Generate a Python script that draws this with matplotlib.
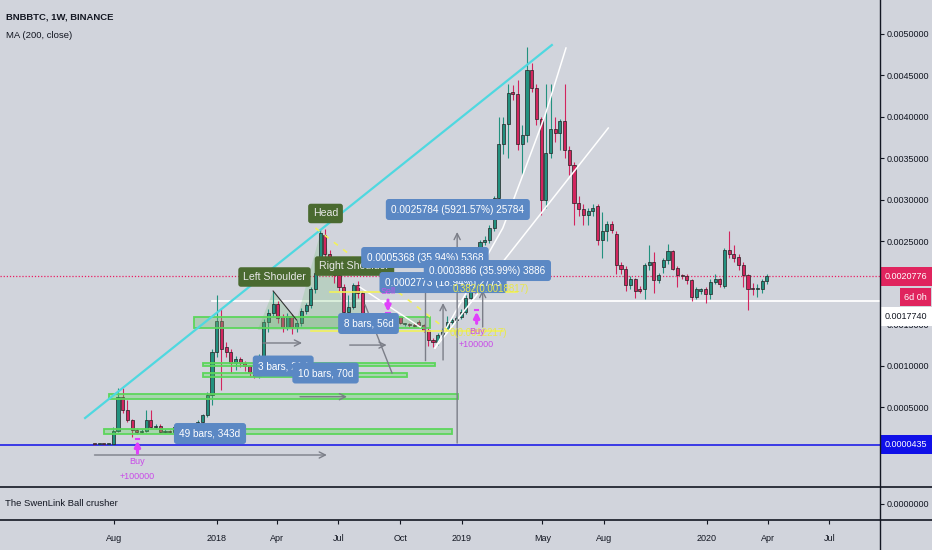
import matplotlib
matplotlib.use("Agg")
import matplotlib.pyplot as plt
import matplotlib.dates as mdates
from matplotlib.lines import Line2D
from matplotlib.patches import Rectangle, Polygon
from matplotlib.ticker import FormatStrFormatter
import pandas as pd

plt.rcParams['font.family'] = ['Liberation Sans', 'DejaVu Sans']

# weekly candles BNBBTC, first bar = week of 2017-07-03
first_week = "2017-07-03"
opens = [0.000050, 0.000049, 0.000050, 0.000049,
         0.000050, 0.000215, 0.000625, 0.000460, 0.000340, 0.000220, 0.000200, 0.000210, 0.000350, 0.000260,
         0.000270, 0.000200, 0.000210, 0.000200, 0.000260, 0.000200, 0.000190, 0.000192, 0.000180, 0.000320,
         0.000400, 0.000640, 0.001160, 0.001540, 0.001230, 0.001170, 0.001030, 0.001080, 0.001030, 0.000990,
         0.000920, 0.000870, 0.001110, 0.001530, 0.001630, 0.001740, 0.001590, 0.001460, 0.001600, 0.001460,
         0.001510, 0.001660, 0.001730, 0.001920, 0.002120, 0.002580, 0.002350, 0.002250, 0.002090, 0.001950,
         0.001650, 0.001710, 0.001970, 0.001880, 0.001590, 0.001510, 0.001510, 0.001500, 0.001505, 0.001590,
         0.001520, 0.001590, 0.001500, 0.001500, 0.001490, 0.001530, 0.001490, 0.001430, 0.001310, 0.001280,
         0.001370, 0.001430, 0.001530, 0.001550, 0.001590, 0.001650, 0.001820, 0.001970, 0.001970, 0.002490,
         0.002520, 0.002660, 0.003020, 0.003670, 0.003920, 0.004300, 0.004280, 0.003670, 0.003780, 0.004570,
         0.004350, 0.003980, 0.003000, 0.003570, 0.003850, 0.003800, 0.003950, 0.003600, 0.003420, 0.002960,
         0.002890, 0.002820, 0.002870, 0.002920, 0.002510, 0.002620, 0.002710, 0.002590, 0.002210, 0.002170,
         0.001970, 0.002040, 0.001930, 0.001920, 0.002210, 0.002250, 0.002030, 0.002190, 0.002270, 0.002380,
         0.002180, 0.002090, 0.002080, 0.002030, 0.001830, 0.001900, 0.001920, 0.001860, 0.002010, 0.002040,
         0.001960, 0.002400, 0.002350, 0.002310, 0.002210, 0.002090, 0.001930, 0.001920, 0.001930, 0.002020]
closes = [0.000049, 0.000050, 0.000049, 0.000050,
          0.000215, 0.000625, 0.000460, 0.000340, 0.000220, 0.000200, 0.000210, 0.000350, 0.000260, 0.000270,
          0.000200, 0.000210, 0.000200, 0.000260, 0.000200, 0.000190, 0.000192, 0.000180, 0.000320, 0.000400,
          0.000640, 0.001160, 0.001540, 0.001200, 0.001170, 0.001030, 0.001080, 0.001030, 0.000990, 0.000920,
          0.000880, 0.001110, 0.001530, 0.001630, 0.001740, 0.001570, 0.001460, 0.001600, 0.001460, 0.001510,
          0.001660, 0.001730, 0.001920, 0.002120, 0.002600, 0.002350, 0.002220, 0.002090, 0.001950, 0.001650,
          0.001710, 0.001970, 0.001880, 0.001590, 0.001510, 0.001510, 0.001500, 0.001505, 0.001510, 0.001530,
          0.001590, 0.001520, 0.001505, 0.001490, 0.001480, 0.001490, 0.001430, 0.001310, 0.001280, 0.001370,
          0.001430, 0.001530, 0.001550, 0.001580, 0.001650, 0.001820, 0.001970, 0.001950, 0.002490, 0.002520,
          0.002660, 0.003020, 0.003670, 0.003920, 0.004290, 0.004280, 0.003670, 0.003780, 0.004570, 0.004350,
          0.003980, 0.003000, 0.003570, 0.003850, 0.003800, 0.003950, 0.003600, 0.003420, 0.002960, 0.002890,
          0.002820, 0.002870, 0.002900, 0.002510, 0.002620, 0.002710, 0.002640, 0.002210, 0.002170, 0.001970,
          0.002040, 0.001900, 0.001900, 0.002210, 0.002250, 0.002030, 0.002090, 0.002270, 0.002380, 0.002170,
          0.002090, 0.002080, 0.002030, 0.001830, 0.001920, 0.001920, 0.001860, 0.002010, 0.002040, 0.001980,
          0.002400, 0.002350, 0.002300, 0.002210, 0.002090, 0.001930, 0.001920, 0.001930, 0.002020, 0.0020776]
highs = [0.000056, 0.000055, 0.000056, 0.000055,
         0.000260, 0.000730, 0.000730, 0.000580, 0.000360, 0.000250, 0.000230, 0.000460, 0.000460, 0.000300,
         0.000290, 0.000230, 0.000220, 0.000270, 0.000270, 0.000210, 0.000200, 0.000200, 0.000340, 0.000420,
         0.000680, 0.001200, 0.001850, 0.001700, 0.001280, 0.001200, 0.001120, 0.001110, 0.001060, 0.001010,
         0.000950, 0.001140, 0.001560, 0.001680, 0.001900, 0.001780, 0.001620, 0.001630, 0.001620, 0.001550,
         0.001700, 0.001760, 0.001950, 0.002150, 0.002640, 0.002650, 0.002400, 0.002280, 0.002120, 0.001980,
         0.001850, 0.002000, 0.002020, 0.001900, 0.001620, 0.001530, 0.001520, 0.001520, 0.001530, 0.001600,
         0.001600, 0.001600, 0.001520, 0.001520, 0.001510, 0.001550, 0.001500, 0.001450, 0.001330, 0.001390,
         0.001450, 0.001600, 0.001570, 0.001600, 0.001680, 0.001850, 0.002000, 0.002000, 0.002520, 0.002560,
         0.002700, 0.003050, 0.004000, 0.004000, 0.004400, 0.004380, 0.004450, 0.003900, 0.004840, 0.004650,
         0.004400, 0.004000, 0.004400, 0.004400, 0.004000, 0.003980, 0.004400, 0.003650, 0.003450, 0.003050,
         0.002950, 0.002900, 0.002950, 0.002950, 0.002850, 0.002750, 0.002740, 0.002620, 0.002250, 0.002200,
         0.002080, 0.002060, 0.001960, 0.002240, 0.002450, 0.002370, 0.002120, 0.002300, 0.002470, 0.002400,
         0.002200, 0.002100, 0.002100, 0.002050, 0.001950, 0.001940, 0.001950, 0.002040, 0.002100, 0.002060,
         0.002420, 0.002620, 0.002450, 0.002350, 0.002250, 0.002100, 0.002000, 0.001980, 0.002040, 0.002100]
lows = [0.000044, 0.000045, 0.000044, 0.000045,
        0.000045, 0.000200, 0.000430, 0.000320, 0.000140, 0.000180, 0.000190, 0.000200, 0.000250, 0.000240,
        0.000190, 0.000190, 0.000190, 0.000190, 0.000190, 0.000180, 0.000170, 0.000160, 0.000170, 0.000300,
        0.000380, 0.000530, 0.001100, 0.000700, 0.001100, 0.000910, 0.000950, 0.000980, 0.000940, 0.000880,
        0.000850, 0.000850, 0.001050, 0.001400, 0.001600, 0.001520, 0.001400, 0.001430, 0.001380, 0.001400,
        0.001480, 0.001620, 0.001700, 0.001880, 0.002100, 0.002300, 0.002150, 0.002000, 0.001900, 0.001550,
        0.001600, 0.001680, 0.001820, 0.001480, 0.001480, 0.001490, 0.001480, 0.001470, 0.001480, 0.001500,
        0.001500, 0.001500, 0.001480, 0.001470, 0.001460, 0.001460, 0.001400, 0.001240, 0.001230, 0.001250,
        0.001340, 0.001400, 0.001500, 0.001530, 0.001560, 0.001620, 0.001800, 0.001880, 0.001920, 0.002450,
        0.002480, 0.002620, 0.003000, 0.003550, 0.003500, 0.004200, 0.003600, 0.003300, 0.003700, 0.004300,
        0.003900, 0.002820, 0.002900, 0.003500, 0.003700, 0.003600, 0.003500, 0.003300, 0.002700, 0.002800,
        0.002700, 0.002700, 0.002800, 0.002450, 0.002300, 0.002500, 0.002600, 0.002100, 0.002100, 0.001900,
        0.001930, 0.001820, 0.001880, 0.001800, 0.002150, 0.001870, 0.002000, 0.002120, 0.002220, 0.002150,
        0.001950, 0.002050, 0.001980, 0.001780, 0.001800, 0.001860, 0.001760, 0.001800, 0.001980, 0.001950,
        0.001940, 0.002300, 0.002250, 0.002150, 0.001950, 0.001670, 0.001850, 0.001830, 0.001880, 0.001980]

last_price = 0.0020776
support_price = 0.0017740
base_price = 0.0000435

price_ticks = [0.0005, 0.0010, 0.0015, 0.0020, 0.0025, 0.0030, 0.0035, 0.0040, 0.0045, 0.0050]
month_ticks = ["2017-08-01", "2018-01-01", "2018-04-01", "2018-07-01", "2018-10-01", "2019-01-01",
               "2019-05-01", "2019-08-01", "2020-01-01", "2020-04-01", "2020-07-01"]
month_labels = ["Aug", "2018", "Apr", "Jul", "Oct", "2019", "May", "Aug", "2020", "Apr", "Jul"]

# chart drawings (date, price)
cyan_trend = [("2017-06-19", 0.000368), ("2019-05-15", 0.004867)]
white_arc = [("2018-11-22", 0.001212), ("2019-03-03", 0.00266), ("2019-03-30", 0.003239),
             ("2019-05-05", 0.004023), ("2019-06-05", 0.004831)]
white_fan = [("2018-11-22", 0.001212), ("2019-08-07", 0.003866)]
white_diag = [("2018-08-02", 0.001948), ("2018-10-31", 0.001466)]
support_start = "2017-12-25"

zones = [("2017-11-28", "2018-11-14", 0.001450, 0.001586),
         ("2017-12-11", "2018-11-22", 0.000995, 0.001035),
         ("2017-12-11", "2018-10-11", 0.000859, 0.000914),
         ("2017-07-25", "2018-12-26", 0.000593, 0.000657),
         ("2017-07-17", "2018-12-18", 0.000175, 0.000232)]

hs_points = [("2018-03-03", 0.00143), ("2018-03-26", 0.00190), ("2018-04-30", 0.00155),
             ("2018-06-06", 0.002648), ("2018-07-11", 0.001647), ("2018-07-27", 0.001948),
             ("2018-08-20", 0.00143)]

gray_arrows = [(("2017-07-03", -0.000078), ("2018-06-14", -0.000078)),
               (("2018-03-11", 0.001273), ("2018-05-08", 0.001273)),
               (("2018-07-18", 0.001248), ("2018-09-11", 0.001248)),
               (("2018-05-05", 0.000625), ("2018-07-14", 0.000625)),
               (("2018-12-25", 0.000066), ("2018-12-25", 0.002612)),
               (("2018-12-04", 0.001068), ("2018-12-04", 0.001755)),
               (("2019-02-01", 0.001466), ("2019-02-01", 0.001912))]
gray_lines = [(("2018-11-07", 0.001068), ("2018-11-07", 0.002033)),
              (("2018-08-10", 0.001731), ("2018-09-19", 0.000911))]

yellow_dash = [("2018-05-28", 0.00266), ("2018-12-14", 0.001405)]
yellow_levels = [(0.001888, "2018-06-18", "2019-03-24"), (0.001417, "2018-05-22", "2019-03-03")]
yellow_texts = [("0.382(0.0018817)", "2018-12-18", 0.00193), ("0(0.0012217)", "2018-12-14", 0.001393)]

blue_boxes = [("0.0002773 (18.94%) 2773", "2018-12-04", 0.002002),
              ("0.0025784 (5921.57%) 25784", "2018-12-26", 0.002883),
              ("0.0005368 (35.94%) 5368", "2018-11-07", 0.002304),
              ("0.0003886 (35.99%) 3886", "2019-02-08", 0.002147),
              ("8 bars, 56d", "2018-08-15", 0.001508),
              ("3 bars, 21d", "2018-04-10", 0.000995),
              ("10 bars, 70d", "2018-06-12", 0.000911),
              ("49 bars, 343d", "2017-12-22", 0.000181)]
pattern_labels = [("Head", "2018-06-12", 0.002835), ("Left Shoulder", "2018-03-28", 0.002069)]
right_shoulder = ("Right Shoulder", "2018-06-03", 0.002201)

buy_marks = [("2017-09-05", 0.000094, -0.000058, -0.000159, -0.000332),
             ("2019-01-23", 0.00165, 0.00151, 0.001417, 0.001257)]
sell_mark = ("2018-09-13", 0.001791, 0.00165, 0.00189)


def dn(s):
    return mdates.date2num(pd.Timestamp(s))


bg = "#d1d4dc"
up_col = "#22917f"
dn_col = "#d2255e"
magenta = "#e040fb"
gray = "#7b7e88"
dark = "#131722"
fs_axis = 6.5

fig = plt.figure(figsize=(9.32, 5.5), dpi=100, facecolor=bg)
ax = fig.add_axes([0, 63 / 550, 880 / 932, 487 / 550], facecolor=bg)
ax2 = fig.add_axes([0, 30 / 550, 880 / 932, 33 / 550], facecolor=bg)

day0 = dn("2017-08-01")
ax.set_xlim(day0 - 169.7, day0 + 1140.6)
ax.set_ylim(-0.000464, 0.00541)
ax2.set_xlim(day0 - 169.7, day0 + 1140.6)
ax2.set_ylim(-1, 1)

# candles
weeks = mdates.date2num(pd.date_range(first_week, periods=len(opens), freq="7D"))
for xi, o, c, h, l in zip(weeks, opens, closes, highs, lows):
    col = up_col if c >= o else dn_col
    ax.vlines(xi, l, h, color=col, lw=0.8, zorder=3)
    body = max(abs(c - o), 0.000012)
    ax.bar(xi, body, bottom=min(o, c), width=4.6, color=col, edgecolor="#222222",
           linewidth=0.5, zorder=3.5)

# horizontal levels
ax.axhline(last_price, color="#e91e63", lw=0.9, ls=(0, (1, 1.5)), zorder=2)
ax.axhline(base_price, color="#1010e8", lw=1.1, zorder=2)
ax.plot([dn(support_start), day0 + 1140.6], [support_price] * 2, color="white", lw=1.3, zorder=2)

# zones
for i, (d1, d2, p1, p2) in enumerate(zones):
    fc = (0.45, 0.72, 0.45, 0.35) if i == 0 else (0.35, 0.85, 0.35, 0.35)
    ax.add_patch(Rectangle((dn(d1), p1), dn(d2) - dn(d1), p2 - p1, facecolor=fc,
                           edgecolor="#5cd65c", lw=1.3, zorder=4))

# head & shoulders pattern
hs = [(dn(d), p) for d, p in hs_points]
ax.add_patch(Polygon(hs, closed=True, facecolor=(0.4, 0.75, 0.4, 0.22), edgecolor="none", zorder=2.5))
ax.plot([hs[1][0], hs[2][0]], [hs[1][1], hs[2][1]], color="#333333", lw=0.8, zorder=4)

# trend lines
ax.plot([dn(d) for d, _ in cyan_trend], [p for _, p in cyan_trend], color="#4fd8e0", lw=1.6, zorder=5)
ax.plot([dn(d) for d, _ in white_arc], [p for _, p in white_arc], color="white", lw=1.1, zorder=5)
ax.plot([dn(d) for d, _ in white_fan], [p for _, p in white_fan], color="white", lw=1.1, zorder=5)
ax.plot([dn(d) for d, _ in white_diag], [p for _, p in white_diag], color="white", lw=1.0, zorder=5)

# yellow fib / projections
ax.plot([dn(d) for d, _ in yellow_dash], [p for _, p in yellow_dash], color="#f2f25a", lw=1.2,
        ls=(0, (3, 4)), zorder=5)
for p, d1, d2 in yellow_levels:
    ax.plot([dn(d1), dn(d2)], [p, p], color="#f2f25a", lw=1.2, zorder=5)
for s, d, p in yellow_texts:
    ax.text(dn(d), p, s, color="#e8e84a", fontsize=7, ha="left", va="center", zorder=7)

# gray arrows and lines
for (d1, p1), (d2, p2) in gray_arrows:
    ax.annotate("", xy=(dn(d2), p2), xytext=(dn(d1), p1), zorder=5,
                arrowprops=dict(arrowstyle="->", color=gray, lw=1.0, mutation_scale=11,
                                shrinkA=0, shrinkB=0))
for (d1, p1), (d2, p2) in gray_lines:
    ax.plot([dn(d1), dn(d2)], [p1, p2], color=gray, lw=1.0, zorder=5)

# buy / sell markers
for d, top, bottom, t1, t2 in buy_marks:
    xm = dn(d)
    ax.annotate("", xy=(xm, top), xytext=(xm, bottom), zorder=6,
                arrowprops=dict(arrowstyle="-|>", color=magenta, lw=2.2, mutation_scale=8,
                                shrinkA=0, shrinkB=0))
    ax.plot([xm - 2.5, xm + 2.5], [top + 0.00002] * 2, color=magenta, lw=1.5, zorder=6)
    ax.text(xm, t1, "Buy", color="#c94be8", fontsize=6.5, ha="center", va="center", zorder=7)
    ax.text(xm, t2, "+100000", color="#c94be8", fontsize=6.5, ha="center", va="center", zorder=7)
xs = dn(sell_mark[0])
ax.annotate("", xy=(xs, sell_mark[2]), xytext=(xs, sell_mark[1]), zorder=6,
            arrowprops=dict(arrowstyle="-|>", color=magenta, lw=2.2, mutation_scale=8,
                            shrinkA=0, shrinkB=0))
ax.plot([xs - 2.5, xs + 2.5], [sell_mark[2] - 0.00002] * 2, color=magenta, lw=1.5, zorder=6)
ax.text(xs, sell_mark[3], "Sell", color="#c94be8", fontsize=6.5, ha="center", va="center", zorder=7)

# labels
ax.text(dn(right_shoulder[1]), right_shoulder[2], right_shoulder[0], color="#e8e8e8", fontsize=7.6,
        ha="left", va="center", zorder=6,
        bbox=dict(boxstyle="round,pad=0.45,rounding_size=0.25", fc="#4a6a30", ec="none"))
for s, d, p in pattern_labels:
    ax.text(dn(d), p, s, color="#e8e8e8", fontsize=7.6, ha="center", va="center", zorder=6,
            bbox=dict(boxstyle="round,pad=0.45,rounding_size=0.25", fc="#4a6a30", ec="none"))
for s, d, p in blue_boxes:
    ax.text(dn(d), p, s, color="white", fontsize=7.2, ha="center", va="center", zorder=6,
            bbox=dict(boxstyle="round,pad=0.55,rounding_size=0.3", fc="#5b88c4", ec="none"))

# price scale
ax.set_xticks([])
ax.yaxis.tick_right()
ax.set_yticks(price_ticks)
ax.yaxis.set_major_formatter(FormatStrFormatter("%.7f"))
ax.tick_params(axis="y", length=3, width=0.8, pad=1.5, labelsize=fs_axis, colors=dark)
for sp in ax.spines.values():
    sp.set_visible(False)
for sp in ax2.spines.values():
    sp.set_visible(False)

ytr = ax.get_yaxis_transform()
lx = 1 + 5 / 880
ax.text(lx, last_price, "0.0020776", transform=ytr, ha="left", va="center", color="white",
        fontsize=fs_axis, zorder=10, clip_on=False,
        bbox=dict(boxstyle="square,pad=0.55", fc="#e0245e", ec="none"))
ax.text(927 / 880, 0.001827, "6d 0h", transform=ytr, ha="right", va="center", color="white",
        fontsize=fs_axis, zorder=10, clip_on=False,
        bbox=dict(boxstyle="square,pad=0.45", fc="#e0245e", ec="none"))
ax.text(lx, 0.001598, "0.0017740", transform=ytr, ha="left", va="center", color=dark,
        fontsize=fs_axis, zorder=10, clip_on=False,
        bbox=dict(boxstyle="square,pad=0.55", fc="white", ec="none"))
ax.text(lx, base_price, "0.0000435", transform=ytr, ha="left", va="center", color="white",
        fontsize=fs_axis, zorder=10, clip_on=False,
        bbox=dict(boxstyle="square,pad=0.55", fc="#1010e8", ec="none"))

# indicator pane
ax2.yaxis.tick_right()
ax2.set_yticks([0])
ax2.set_yticklabels(["0.0000000"])
ax2.tick_params(axis="y", length=3, width=0.8, pad=1.5, labelsize=fs_axis, colors=dark)
ax2.text(0.006, 0.5, "The SwenLink Ball crusher", transform=ax2.transAxes, fontsize=6.8,
         color=dark, va="center", ha="left")
ax2.set_xticks([dn(d) for d in month_ticks])
ax2.set_xticklabels(month_labels)
ax2.tick_params(axis="x", length=3, width=0.8, pad=7, labelsize=fs_axis, colors=dark)

# pane separators
fig.add_artist(Line2D([0, 1], [1 - 487 / 550] * 2, transform=fig.transFigure, color=dark, lw=1.2))
fig.add_artist(Line2D([0, 1], [1 - 520 / 550] * 2, transform=fig.transFigure, color=dark, lw=1.2))
fig.add_artist(Line2D([880 / 932] * 2, [0, 1], transform=fig.transFigure, color=dark, lw=1.0))

# header
fig.text(6 / 932, 1 - 17 / 550, "BNBBTC, 1W, BINANCE", fontsize=6.8, fontweight="bold",
         color=dark, va="center")
fig.text(6 / 932, 1 - 35 / 550, "MA (200, close)", fontsize=6.8, color=dark, va="center")

fig.savefig("out.png", dpi=100, facecolor=bg)
